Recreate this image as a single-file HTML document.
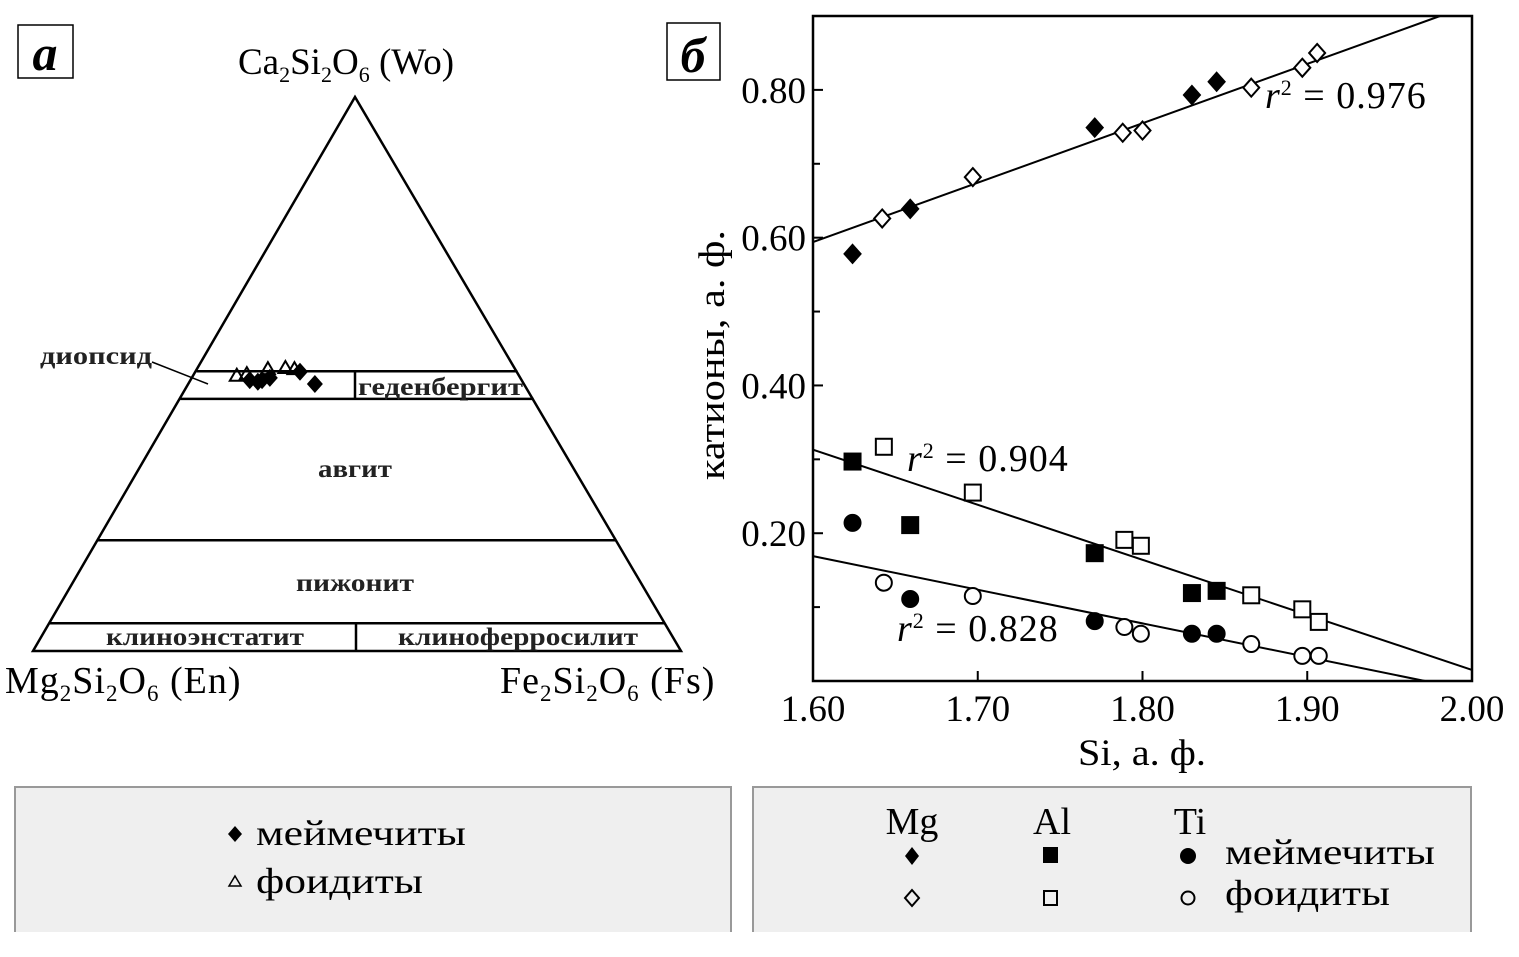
<!DOCTYPE html>
<html><head><meta charset="utf-8"><style>
html,body{margin:0;padding:0;background:#fff;}
svg{display:block;font-family:"Liberation Serif","DejaVu Serif",serif;}
</style></head><body>
<svg id="svg" width="1519" height="957" viewBox="0 0 1519 957" xmlns="http://www.w3.org/2000/svg">
<g>
  <rect x="18" y="25" width="55" height="53" fill="#fff" stroke="#000" stroke-width="1.5"/>
  <text x="45" y="70" font-size="50" font-style="italic" font-weight="bold" text-anchor="middle">а</text>
  <text x="238" y="74" font-size="37">Ca<tspan font-size="22" dy="8">2</tspan><tspan dy="-8">Si</tspan><tspan font-size="22" dy="8">2</tspan><tspan dy="-8">O</tspan><tspan font-size="22" dy="8">6</tspan><tspan dy="-8"> (Wo)</tspan></text>
  <text x="5" y="693" font-size="38" letter-spacing="1">Mg<tspan font-size="23" dy="8">2</tspan><tspan dy="-8">Si</tspan><tspan font-size="23" dy="8">2</tspan><tspan dy="-8">O</tspan><tspan font-size="23" dy="8">6</tspan><tspan dy="-8"> (En)</tspan></text>
  <text x="500" y="693" font-size="38" letter-spacing="1">Fe<tspan font-size="23" dy="8">2</tspan><tspan dy="-8">Si</tspan><tspan font-size="23" dy="8">2</tspan><tspan dy="-8">O</tspan><tspan font-size="23" dy="8">6</tspan><tspan dy="-8"> (Fs)</tspan></text>
  <g id="tern" stroke="#000" stroke-width="2.5" fill="none"></g>
  <g font-size="25" font-weight="bold" fill="#222">
    <text x="40" y="364" textLength="112" lengthAdjust="spacingAndGlyphs">диопсид</text>
    <text x="358" y="395" textLength="165" lengthAdjust="spacingAndGlyphs">геденбергит</text>
    <text x="318" y="477" textLength="74" lengthAdjust="spacingAndGlyphs">авгит</text>
    <text x="296" y="591" textLength="118" lengthAdjust="spacingAndGlyphs">пижонит</text>
    <text x="106" y="645" textLength="198" lengthAdjust="spacingAndGlyphs">клиноэнстатит</text>
    <text x="398" y="645" textLength="240" lengthAdjust="spacingAndGlyphs">клиноферросилит</text>
  </g>
  <line x1="152" y1="362" x2="208" y2="384" stroke="#000" stroke-width="1.5"/>
  <g id="ternpts"></g>
</g>
<g>
  <rect x="667" y="23" width="53" height="57" fill="#fff" stroke="#000" stroke-width="1.5"/>
  <text x="693" y="72" font-size="50" font-style="italic" font-weight="bold" text-anchor="middle">б</text>
  <rect x="813" y="16" width="659" height="665" fill="none" stroke="#000" stroke-width="2.5"/>
  <g id="axes"></g>
  <text transform="translate(724,355) rotate(-90)" font-size="37" text-anchor="middle" textLength="250" lengthAdjust="spacingAndGlyphs">катионы, а. ф.</text>
  <text x="1078" y="765" font-size="37" textLength="128" lengthAdjust="spacingAndGlyphs">Si, а. ф.</text>
  <g id="lines" stroke="#000" stroke-width="2"></g>
  <g id="pts"></g>
  <g font-size="38" letter-spacing="1">
    <text x="1265" y="108"><tspan font-style="italic">r</tspan><tspan font-size="22" dy="-13">2</tspan><tspan dy="13"> = 0.976</tspan></text>
    <text x="907" y="471"><tspan font-style="italic">r</tspan><tspan font-size="22" dy="-13">2</tspan><tspan dy="13"> = 0.904</tspan></text>
    <text x="897" y="641"><tspan font-style="italic">r</tspan><tspan font-size="22" dy="-13">2</tspan><tspan dy="13"> = 0.828</tspan></text>
  </g>
</g>
<g>
  <path d="M15 932 V787 H731 V932" fill="#efefef" stroke="#999" stroke-width="2"/>
  <path d="M235 826 l7 8 l-7 8 l-7 -8 z" fill="#000"/>
  <text x="256" y="845" font-size="36" textLength="210" lengthAdjust="spacingAndGlyphs">меймечиты</text>
  <path d="M235 876 l6 10 h-12 z" fill="none" stroke="#000" stroke-width="1.5"/>
  <text x="256" y="893" font-size="36" textLength="167" lengthAdjust="spacingAndGlyphs">фоидиты</text>
</g>
<g>
  <path d="M753 932 V787 H1471 V932" fill="#efefef" stroke="#999" stroke-width="2"/>
  <text x="912" y="834" font-size="38" text-anchor="middle">Mg</text>
  <text x="1052" y="834" font-size="38" text-anchor="middle">Al</text>
  <text x="1190" y="834" font-size="38" text-anchor="middle">Ti</text>
  <path d="M912 847 l7 9 l-7 9 l-7 -9 z" fill="#000"/>
  <rect x="1043" y="847" width="15" height="16" fill="#000"/>
  <circle cx="1188" cy="856" r="8" fill="#000"/>
  <text x="1225" y="864" font-size="36" textLength="210" lengthAdjust="spacingAndGlyphs">меймечиты</text>
  <path d="M912 890 l7 8 l-7 8 l-7 -8 z" fill="none" stroke="#000" stroke-width="2"/>
  <rect x="1044" y="891" width="13" height="14" fill="none" stroke="#000" stroke-width="2"/>
  <circle cx="1188" cy="898" r="6.5" fill="none" stroke="#000" stroke-width="2"/>
  <text x="1225" y="905" font-size="36" textLength="165" lengthAdjust="spacingAndGlyphs">фоидиты</text>
</g>
</svg>
<script>
const ternMeiWo = [0.489, 0.486, 0.489, 0.493, 0.504, 0.482];
const ternMeiFs = [0.090, 0.104, 0.109, 0.119, 0.160, 0.194];
const ternFoiWo = [0.495, 0.498, 0.507, 0.509, 0.507];
const ternFoiFs = [0.067, 0.081, 0.109, 0.135, 0.150];
const ternBoundsWo = [0.505, 0.455, 0.20, 0.05];

const mgMeiX = [1.624, 1.659, 1.771, 1.830, 1.845];
const mgMeiY = [0.578, 0.639, 0.749, 0.793, 0.811];
const mgFoiX = [1.642, 1.697, 1.788, 1.800, 1.866, 1.897, 1.906];
const mgFoiY = [0.626, 0.682, 0.742, 0.745, 0.803, 0.830, 0.850];
const alMeiX = [1.624, 1.659, 1.771, 1.830, 1.845];
const alMeiY = [0.297, 0.211, 0.173, 0.119, 0.122];
const alFoiX = [1.643, 1.697, 1.789, 1.799, 1.866, 1.897, 1.907];
const alFoiY = [0.317, 0.255, 0.191, 0.183, 0.116, 0.097, 0.080];
const tiMeiX = [1.624, 1.659, 1.771, 1.830, 1.845];
const tiMeiY = [0.214, 0.111, 0.081, 0.064, 0.064];
const tiFoiX = [1.643, 1.697, 1.789, 1.799, 1.866, 1.897, 1.907];
const tiFoiY = [0.133, 0.115, 0.073, 0.064, 0.050, 0.034, 0.034];
const mgFit = [0.594, 0.804];
const alFit = [0.313, -0.745];
const tiFit = [0.169, -0.455];
const xTicks = [1.60, 1.70, 1.80, 1.90, 2.00];
const yTicks = [0.20, 0.40, 0.60, 0.80];
const yMinor = [0.10, 0.30, 0.50, 0.70];

const NS = "http://www.w3.org/2000/svg";
function mk(tag, attrs, parent){const e=document.createElementNS(NS,tag);for(const k in attrs)e.setAttribute(k,attrs[k]);parent.appendChild(e);return e;}

const TL=[33,651], TR=[681,651], TT=[355,97];
function tx(wo,fs){return TL[0]+(TR[0]-TL[0])*(fs+wo/2);}
function ty(wo){return TL[1]-(TL[1]-TT[1])*wo;}
const tern=document.getElementById('tern');
let tri=mk('path',{d:`M${TL} L${TT} L${TR} Z`},tern);


ternBoundsWo.forEach(w=>{
  const y=ty(w), l=tx(w,0), r=tx(w,1-w);
  const ln=mk('line',{x1:l,y1:y,x2:r,y2:y},tern);
  
  
});
const v1=mk('line',{x1:355,y1:ty(ternBoundsWo[0]),x2:355,y2:ty(ternBoundsWo[1])},tern);


const v2=mk('line',{x1:356,y1:ty(ternBoundsWo[3]),x2:356,y2:651},tern);


const tp=document.getElementById('ternpts');
ternFoiWo.forEach((w,i)=>{
  const x=tx(w,ternFoiFs[i]), y=ty(w);
  const p=mk('path',{d:`M${x} ${y-8} l7 12 h-14 z`,fill:'none',stroke:'#000','stroke-width':2},tp);
  
  
});
ternMeiWo.forEach((w,i)=>{
  const x=tx(w,ternMeiFs[i]), y=ty(w);
  const p=mk('path',{d:`M${x} ${y-9} l8 9 l-8 9 l-8 -9 z`,fill:'#000'},tp);
  
  
});

const X0=813,X1=1472,Y0=681,Y1=16;
function sx(v){return X0+(v-1.6)/0.4*(X1-X0);}
function sy(v){return Y0-v/0.9*(Y0-Y1);}
const axes=document.getElementById('axes');
xTicks.forEach(t=>{
  const l=mk('line',{x1:sx(t),y1:Y0,x2:sx(t),y2:Y0-10,stroke:'#000','stroke-width':2},axes);
  
  
  const tt=mk('text',{x:sx(t),y:721,'font-size':37,'text-anchor':'middle'},axes);
  tt.textContent=t.toFixed(2);
  
  
});
yTicks.forEach(t=>{
  const l=mk('line',{x1:X0,y1:sy(t),x2:X0+10,y2:sy(t),stroke:'#000','stroke-width':2},axes);
  
  
  const tt=mk('text',{x:806,y:sy(t)+13,'font-size':37,'text-anchor':'end'},axes);
  tt.textContent=t.toFixed(2);
  
  
});
yMinor.forEach(t=>{
  const l=mk('line',{x1:X0,y1:sy(t),x2:X0+7,y2:sy(t),stroke:'#000','stroke-width':2},axes);
  
  
});

const lines=document.getElementById('lines');
[[mgFit,'mg-fit-line'],[alFit,'al-fit-line'],[tiFit,'ti-fit-line']].forEach(([f,n])=>{
  let xa=1.6, xb=2.0;
  const yAt=x=>f[0]+f[1]*(x-1.6);
  if(yAt(xb)>0.9) xb=1.6+(0.9-f[0])/f[1];
  if(yAt(xb)<0) xb=1.6+(0-f[0])/f[1];
  const l=mk('line',{x1:sx(xa),y1:sy(yAt(xa)),x2:sx(xb),y2:sy(yAt(xb))},lines);
  
  
});

const pts=document.getElementById('pts');
function diamond(x,y,filled,name){
  const cx=sx(x),cy=sy(y);
  const p=mk('path',{d:`M${cx} ${cy-9} l8 9 l-8 9 l-8 -9 z`,fill:filled?'#000':'#fff',stroke:'#000','stroke-width':2},pts);
  
  
}
function square(x,y,filled,name){
  const cx=sx(x),cy=sy(y);
  const p=mk('rect',{x:cx-8,y:cy-8,width:16,height:16,fill:filled?'#000':'#fff',stroke:'#000','stroke-width':2},pts);
  
  
}
function circ(x,y,filled,name){
  const p=mk('circle',{cx:sx(x),cy:sy(y),r:8,fill:filled?'#000':'#fff',stroke:'#000','stroke-width':2},pts);
  
  
}
mgMeiX.forEach((x,i)=>diamond(x,mgMeiY[i],true,'mg-meimechite-point'));
mgFoiX.forEach((x,i)=>diamond(x,mgFoiY[i],false,'mg-foidite-point'));
alMeiX.forEach((x,i)=>square(x,alMeiY[i],true,'al-meimechite-point'));
alFoiX.forEach((x,i)=>square(x,alFoiY[i],false,'al-foidite-point'));
tiMeiX.forEach((x,i)=>circ(x,tiMeiY[i],true,'ti-meimechite-point'));
tiFoiX.forEach((x,i)=>circ(x,tiFoiY[i],false,'ti-foidite-point'));
</script>
</body></html>
